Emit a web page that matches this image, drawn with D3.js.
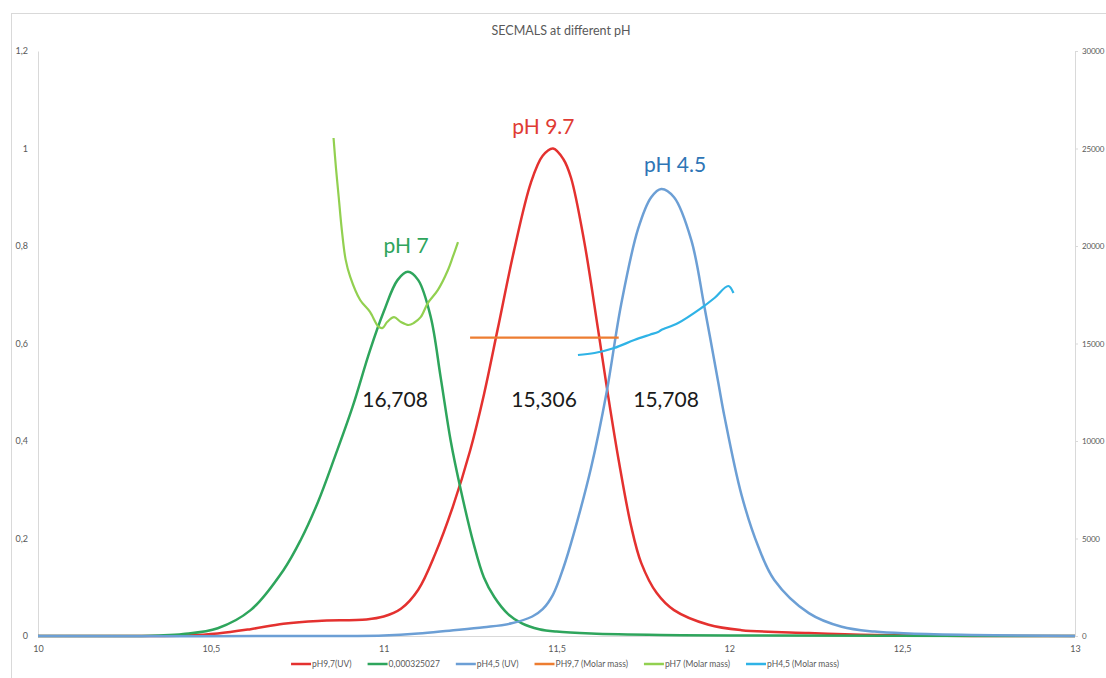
<!DOCTYPE html>
<html>
<head>
<meta charset="utf-8">
<script src="https://cdn.jsdelivr.net/npm/d3@7"></script>
<style>
  body { margin: 0; background: #fff; }
  svg { font-family: Lato, "Open Sans", sans-serif; }
  .axis text { fill: #595959; font-size: 9px; }
  .axis path, .axis line { stroke: #d9d9d9; }
</style>
</head>
<body>
<svg id="chart" width="1106" height="678"></svg>
<script>
// elution volume (x) and signal values
var ph97X = [10, 10.3, 10.43, 10.52, 10.615, 10.71, 10.81, 10.95, 11.0, 11.05, 11.1, 11.15, 11.2, 11.25, 11.29, 11.33, 11.377, 11.426, 11.46, 11.49, 11.52, 11.542, 11.58, 11.62, 11.65, 11.68, 11.716, 11.745, 11.79, 11.84, 11.94, 12.035, 12.23, 12.42, 12.7, 13]
var ph97Y = [0, 0, 0.001, 0.005, 0.014, 0.025, 0.031, 0.034, 0.04, 0.056, 0.095, 0.17, 0.265, 0.38, 0.495, 0.63, 0.79, 0.93, 0.985, 1.0, 0.978, 0.94, 0.81, 0.63, 0.49, 0.36, 0.225, 0.15, 0.088, 0.053, 0.023, 0.012, 0.006, 0.002, 0, 0]

var ph7X = [10, 10.3, 10.35, 10.42, 10.52, 10.615, 10.71, 10.76, 10.81, 10.86, 10.91, 10.96, 11.0, 11.04, 11.07, 11.1, 11.136, 11.165, 11.194, 11.223, 11.26, 11.29, 11.32, 11.36, 11.4, 11.45, 11.5, 11.6, 11.8, 12.0, 13]
var ph7Y = [0, 0, 0.001, 0.004, 0.016, 0.053, 0.135, 0.197, 0.275, 0.37, 0.47, 0.585, 0.665, 0.73, 0.747, 0.73, 0.655, 0.53, 0.4, 0.3, 0.19, 0.12, 0.08, 0.045, 0.026, 0.014, 0.009, 0.005, 0.002, 0.001, 0]

var ph45X = [10, 10.9, 11.0, 11.1, 11.19, 11.29, 11.37, 11.43, 11.46, 11.49, 11.52, 11.55, 11.6, 11.645, 11.687, 11.736, 11.774, 11.803, 11.84, 11.89, 11.928, 11.968, 11.986, 12.035, 12.084, 12.13, 12.23, 12.325, 12.42, 12.52, 12.7, 13]
var ph45Y = [0, 0, 0.001, 0.005, 0.011, 0.018, 0.026, 0.04, 0.055, 0.085, 0.14, 0.21, 0.345, 0.5, 0.68, 0.835, 0.9, 0.917, 0.9, 0.812, 0.675, 0.52, 0.45, 0.29, 0.183, 0.115, 0.047, 0.019, 0.009, 0.005, 0.002, 0]

// molar mass series (right axis)
var mm97X = [11.25, 11.68]
var mm97Y = [15306, 15306]

var mm7X = [10.855, 10.862, 10.87, 10.879, 10.89, 10.903, 10.932, 10.96, 10.985, 10.997, 11.01, 11.03, 11.05, 11.072, 11.087, 11.107, 11.128, 11.157, 11.186, 11.2, 11.215]
var mm7Y = [25540, 24000, 22500, 20820, 19300, 18430, 17230, 16630, 15860, 15800, 16100, 16350, 16100, 15950, 16050, 16350, 17080, 17750, 18770, 19440, 20200]

var mm45X = [11.562, 11.61, 11.667, 11.725, 11.77, 11.794, 11.803, 11.852, 11.919, 11.957, 11.997, 12.012]
var mm45Y = [14410, 14513, 14769, 15179, 15450, 15590, 15692, 16051, 16821, 17333, 17949, 17590]

var xTicks = [10, 10.5, 11, 11.5, 12, 12.5, 13]
var yTicks = [0, 0.2, 0.4, 0.6, 0.8, 1, 1.2]
var y2Ticks = [0, 5000, 10000, 15000, 20000, 25000, 30000]

var seriesNames = ["pH9,7(UV)", "0,000325027", "pH4,5 (UV)", "PH9,7 (Molar mass)", "pH7 (Molar mass)", "pH4,5 (Molar mass)"]
var seriesColors = ["#e4312f", "#2ea55c", "#6c9fd5", "#ed7d31", "#92d050", "#2fb3e6"]

var peakLabels = [
  {text: "pH 9.7", x: 11.462, y: 1.03, color: "#e03b33"},
  {text: "pH 4.5", x: 11.843, y: 0.952, color: "#2e75b6"},
  {text: "pH 7", x: 11.065, y: 0.785, color: "#2ea55c"}
]
var massLabels = [
  {text: "16,708", x: 11.033, y: 0.47},
  {text: "15,306", x: 11.464, y: 0.47},
  {text: "15,708", x: 11.817, y: 0.47}
]

var svg = d3.select("#chart")

// chart frame
svg.append("rect")
  .attr("x", 11.5).attr("y", 13.5)
  .attr("width", 1110).attr("height", 700)
  .attr("fill", "none").attr("stroke", "#d9d9d9")

var x = d3.scaleLinear().domain([10, 13]).range([38, 1075])
var y = d3.scaleLinear().domain([0, 1.2]).range([636, 51])
var y2 = d3.scaleLinear().domain([0, 30000]).range([636, 51])

var comma = function(d) { return String(d).replace(".", ",") }

svg.append("g").attr("class", "axis")
  .attr("transform", "translate(38,0)")
  .call(d3.axisLeft(y).tickValues(yTicks).tickFormat(comma).tickSize(0).tickSizeOuter(0).tickPadding(10))

var right = svg.append("g").attr("class", "axis")
  .attr("transform", "translate(1075,0)")
  .call(d3.axisRight(y2).tickValues(y2Ticks).tickFormat(d3.format("d")).tickSize(3).tickSizeOuter(0).tickPadding(4))
right.selectAll("text").style("font-size", "8px").attr("letter-spacing", "-0.2px")

svg.append("g").attr("class", "axis")
  .attr("transform", "translate(0,636)")
  .call(d3.axisBottom(x).tickValues(xTicks).tickFormat(comma).tickSize(0).tickSizeOuter(0).tickPadding(10))

svg.selectAll(".axis text").attr("font-family", "Lato, sans-serif")

// title
svg.append("text")
  .attr("x", 561).attr("y", 35)
  .attr("text-anchor", "middle")
  .attr("fill", "#595959")
  .style("font-size", "12.5px")
  .text("SECMALS at different pH")

var uvLine = d3.line()
  .x(function(d) { return x(d[0]) })
  .y(function(d) { return y(Math.max(0, d[1])) })
  .curve(d3.curveCatmullRom.alpha(0.5))

var mmLine = d3.line()
  .x(function(d) { return x(d[0]) })
  .y(function(d) { return y2(d[1]) })
  .curve(d3.curveCatmullRom.alpha(0.5))

var zip = function(a, b) { return a.map(function(v, i) { return [v, b[i]] }) }

var uvSeries = [zip(ph97X, ph97Y), zip(ph7X, ph7Y), zip(ph45X, ph45Y)]
var mmSeries = [zip(mm97X, mm97Y), zip(mm7X, mm7Y), zip(mm45X, mm45Y)]

svg.append("g").selectAll("path")
  .data(uvSeries)
  .join("path")
  .attr("d", uvLine)
  .attr("fill", "none")
  .attr("stroke", function(d, i) { return seriesColors[i] })
  .attr("stroke-width", 2.5)
  .attr("stroke-linejoin", "round")

svg.append("g").selectAll("path")
  .data(mmSeries)
  .join("path")
  .attr("d", mmLine)
  .attr("fill", "none")
  .attr("stroke", function(d, i) { return seriesColors[i + 3] })
  .attr("stroke-width", 2.2)
  .attr("stroke-linejoin", "round")

// annotations
svg.append("g").selectAll("text")
  .data(peakLabels)
  .join("text")
  .attr("x", function(d) { return x(d.x) })
  .attr("y", function(d) { return y(d.y) })
  .attr("text-anchor", "middle")
  .attr("fill", function(d) { return d.color })
  .style("font-size", "21px")
  .text(function(d) { return d.text })

svg.append("g").selectAll("text")
  .data(massLabels)
  .join("text")
  .attr("x", function(d) { return x(d.x) })
  .attr("y", function(d) { return y(d.y) })
  .attr("text-anchor", "middle")
  .attr("fill", "#1a1a1a")
  .style("font-size", "21px")
  .text(function(d) { return d.text })

// legend
var legend = svg.append("g")
var items = legend.selectAll("g")
  .data(seriesNames)
  .join("g")

items.append("line")
  .attr("x1", 0).attr("x2", 20)
  .attr("y1", 0).attr("y2", 0)
  .attr("stroke", function(d, i) { return seriesColors[i] })
  .attr("stroke-width", 2.5)

items.append("text")
  .attr("x", 21).attr("y", 3)
  .attr("fill", "#595959")
  .style("font-size", "8.5px")
  .text(function(d) { return d })

var offset = 0
var widths = []
items.each(function(d, i) {
  var w = 21 + d3.select(this).select("text").node().getComputedTextLength()
  widths.push(w)
})
var total = d3.sum(widths) + 16 * (widths.length - 1)
var startX = 565 - total / 2
items.attr("transform", function(d, i) {
  var t = "translate(" + (startX + offset) + ",664)"
  offset += widths[i] + 16
  return t
})
</script>
</body>
</html>
